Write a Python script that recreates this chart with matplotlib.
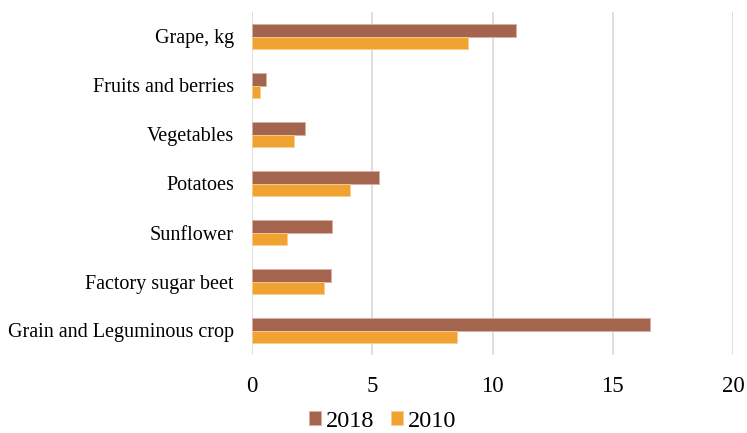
import numpy as np
import matplotlib.pyplot as plt

categories = ['Grain and Leguminous crop', 'Factory sugar beet', 'Sunflower',
              'Potatoes', 'Vegetables', 'Fruits and berries', 'Grape, kg']
v2018 = [16.56, 3.29, 3.33, 5.29, 2.21, 0.59, 10.97]
v2010 = [8.54, 2.98, 1.46, 4.06, 1.73, 0.35, 8.97]

plt.rcParams['font.family'] = ['Liberation Serif', 'DejaVu Serif']

fig = plt.figure(figsize=(7.47, 4.33), dpi=100)
ax = fig.add_axes([252/747, 1 - 355/433, (733-252)/747, 343/433])

y = np.arange(len(categories))
h = 0.255
ax.barh(y + h/2, v2018, height=h, color='#A5644E', edgecolor='#D8B0A4', linewidth=0.6, label='2018', zorder=3)
ax.barh(y - h/2, v2010, height=h, color='#F0A330', edgecolor='#F6CE8E', linewidth=0.6, label='2010', zorder=3)

ax.set_xlim(0, 20)
ax.set_ylim(-0.5, len(categories) - 0.5)
ax.set_xticks([0, 5, 10, 15, 20])
ax.set_yticks(y)
ax.set_yticklabels(categories, fontsize=14.5)
ax.tick_params(axis='x', labelsize=16.5, length=0, pad=15)
ax.tick_params(axis='y', length=0, pad=13)
ax.grid(axis='x', color='#D9D9D9', linewidth=1.2, zorder=0)
for s in ax.spines.values():
    s.set_visible(False)

ax.legend(loc='center', bbox_to_anchor=(0.272, -0.193), ncol=2, frameon=False,
          fontsize=17.5, handlelength=0.5, handleheight=0.5, handletextpad=0.2,
          columnspacing=0.7, borderpad=0, borderaxespad=0)

fig.savefig('out.png', dpi=100)
